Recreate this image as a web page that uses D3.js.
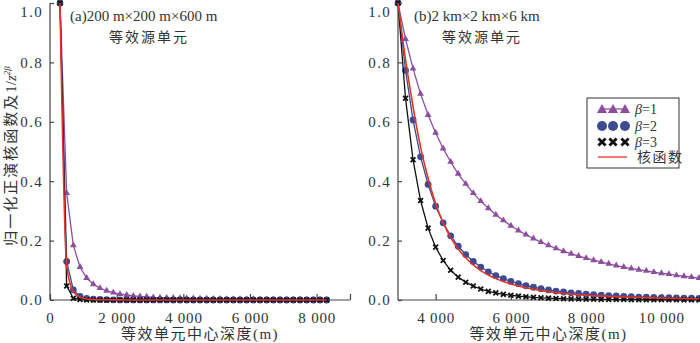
<!DOCTYPE html>
<html>
<head>
<meta charset="utf-8">
<script src="https://cdn.jsdelivr.net/npm/d3@7"></script>
<style>
  body { margin: 0; background: #fff; }
  svg text { font-family: "Liberation Serif", "Noto Sans CJK SC", serif; fill: #333; }
</style>
</head>
<body>
<div id="chart"></div>
<script>
// depths (m) of equivalent unit centres
let depthA = [300, 500, 700, 900, 1100, 1300, 1500, 1700, 1900, 2100, 2300, 2500, 2700, 2900, 3100, 3300, 3500, 3700, 3900, 4100,
    4300, 4500, 4700, 4900, 5100, 5300, 5500, 5700, 5900, 6100, 6300, 6500, 6700, 6900, 7100, 7300, 7500, 7700, 7900, 8100, 8300];
let depthB = [3000, 3200, 3400, 3600, 3800, 4000, 4200, 4400, 4600, 4800, 5000, 5200, 5400, 5600, 5800, 6000, 6200, 6400, 6600, 6800,
    7000, 7200, 7400, 7600, 7800, 8000, 8200, 8400, 8600, 8800, 9000, 9200, 9400, 9600, 9800, 10000, 10200, 10400, 10600, 10800, 11000];

// (a) 200 m x 200 m x 600 m
let beta1A = [1, 0.36, 0.184, 0.111, 0.074, 0.053, 0.04, 0.031, 0.025, 0.02, 0.017, 0.014, 0.012, 0.011, 0.009, 0.008, 0.007, 0.0066, 0.0059, 0.0054,
    0.0049, 0.0044, 0.0041, 0.0037, 0.0035, 0.0032, 0.003, 0.0028, 0.0026, 0.0024, 0.0023, 0.0021, 0.002, 0.0019, 0.0018, 0.0017, 0.0016, 0.0015, 0.0014, 0.0014, 0.0013];
let beta2A = [1, 0.13, 0.034, 0.012, 0.0055, 0.0028, 0.0016, 0.001, 0.0006, 0.0004, 0.0003, 0.0002, 0.0002, 0.0001, 0.0001, 0.0001, 0.0001, 0, 0, 0,
    0, 0, 0, 0, 0, 0, 0, 0, 0, 0, 0, 0, 0, 0, 0, 0, 0, 0, 0, 0, 0];
let beta3A = [1, 0.047, 0.006, 0.0014, 0.0004, 0.0002, 0.0001, 0, 0, 0, 0, 0, 0, 0, 0, 0, 0, 0, 0, 0,
    0, 0, 0, 0, 0, 0, 0, 0, 0, 0, 0, 0, 0, 0, 0, 0, 0, 0, 0, 0, 0];
let kernelA = [1, 0.115, 0.028, 0.009, 0.0035, 0.0017, 0.001, 0.0006, 0.0004, 0.0003, 0.0002, 0.0002, 0.0001, 0.0001, 0.0001, 0.0001, 0.0001, 0.0001, 0, 0,
    0, 0, 0, 0, 0, 0, 0, 0, 0, 0, 0, 0, 0, 0, 0, 0, 0, 0, 0, 0, 0];

// (b) 2 km x 2 km x 6 km
let beta1B = [1, 0.879, 0.779, 0.694, 0.623, 0.563, 0.51, 0.465, 0.425, 0.391, 0.36, 0.333, 0.309, 0.287, 0.268, 0.25, 0.234, 0.22, 0.207, 0.195,
    0.184, 0.174, 0.164, 0.156, 0.148, 0.141, 0.134, 0.128, 0.122, 0.116, 0.111, 0.106, 0.102, 0.098, 0.094, 0.09, 0.087, 0.083, 0.08, 0.077, 0.074];
let beta2B = [1, 0.773, 0.606, 0.482, 0.389, 0.316, 0.26, 0.216, 0.181, 0.153, 0.13, 0.111, 0.095, 0.082, 0.072, 0.0625, 0.055, 0.048, 0.043, 0.038,
    0.034, 0.03, 0.027, 0.024, 0.022, 0.02, 0.018, 0.016, 0.015, 0.0135, 0.012, 0.011, 0.01, 0.0095, 0.009, 0.008, 0.0075, 0.007, 0.0064, 0.006, 0.0055];
let beta3B = [1, 0.679, 0.472, 0.335, 0.242, 0.178, 0.133, 0.1, 0.077, 0.06, 0.047, 0.037, 0.029, 0.024, 0.019, 0.016, 0.013, 0.011, 0.009, 0.0074,
    0.0062, 0.0052, 0.0044, 0.0038, 0.0032, 0.0028, 0.0024, 0.0021, 0.0018, 0.0016, 0.0014, 0.0012, 0.0011, 0.0009, 0.0008, 0.0007, 0.0006, 0.0006, 0.0005, 0.0005, 0.0004];
let kernelB = [1, 0.81, 0.65, 0.515, 0.41, 0.325, 0.26, 0.21, 0.172, 0.142, 0.118, 0.099, 0.084, 0.072, 0.062, 0.054, 0.047, 0.041, 0.036, 0.032,
    0.028, 0.025, 0.022, 0.02, 0.018, 0.016, 0.0145, 0.013, 0.012, 0.011, 0.01, 0.009, 0.0083, 0.0076, 0.007, 0.0064, 0.0059, 0.0054, 0.005, 0.0046, 0.0042];

let yTicks = [0, 0.2, 0.4, 0.6, 0.8, 1.0];
let xTicksA = [0, 2000, 4000, 6000, 8000, 9000];
let xTicksB = [4000, 6000, 8000, 10000];
let legendLabels = ['=1', '=2', '=3', '核函数'];

let colPurple = '#8b4f9d', colBlue = '#3f4b91', colBlack = '#111', colRed = '#e5352b';
let serif = '"Liberation Serif", "Noto Sans CJK SC", serif';

let svg = d3.select('#chart').append('svg').attr('width', 700).attr('height', 343);

let locale = d3.formatLocale({ decimal: '.', thousands: ' ', grouping: [3], currency: ['', ''] });
let fmtX = locale.format(',d');
let fmtY = d3.format('.1f');

function xMark(g, x, y, h, w) {
    g.append('path')
        .attr('d', 'M' + (x - h) + ',' + (y - h) + 'L' + (x + h) + ',' + (y + h) + 'M' + (x - h) + ',' + (y + h) + 'L' + (x + h) + ',' + (y - h))
        .attr('stroke', colBlack).attr('stroke-width', w).attr('fill', 'none');
}

function drawPanel(opt) {
    var x = d3.scaleLinear().domain(opt.xDomain).range(opt.xRange);
    var y = d3.scaleLinear().domain([0, 1]).range([300, 3]);
    var g = svg.append('g');

    // axes, ticks inward
    g.append('g').attr('transform', 'translate(0,300)')
        .call(d3.axisBottom(x).tickValues(opt.xTicks).tickSize(-6).tickPadding(12)
            .tickFormat(d => opt.hide && opt.hide.indexOf(d) >= 0 ? '' : fmtX(d)))
        .attr('font-family', serif).attr('font-size', 15)
        .call(a => a.select('.domain').attr('d', 'M' + opt.xRange[0] + ',0H' + opt.xRange[1]))
        .call(a => a.selectAll('line,path').attr('stroke', '#444').attr('stroke-width', 1.2))
        .call(a => a.selectAll('text').attr('fill', '#333').style('letter-spacing', '0.8px'));

    g.append('g').attr('transform', 'translate(' + opt.xRange[0] + ',0)')
        .call(d3.axisLeft(y).tickValues(yTicks).tickSize(-4).tickPadding(7).tickFormat(fmtY))
        .attr('font-family', serif).attr('font-size', 15)
        .call(a => a.select('.domain').attr('d', 'M0,3V300'))
        .call(a => a.selectAll('line,path').attr('stroke', '#444').attr('stroke-width', 1.2))
        .call(a => a.selectAll('text').attr('fill', '#333').style('letter-spacing', '1.3px'))
        .call(a => a.selectAll('.tick').filter(d => d === 1).select('text').attr('dy', '0.9em'));

    var line = d3.line().x(d => x(d[0])).y(d => y(d[1]));
    var zip = (xs, ys) => xs.map((v, i) => [v, ys[i]]);

    var s1 = zip(opt.depth, opt.b1), s2 = zip(opt.depth, opt.b2), s3 = zip(opt.depth, opt.b3), sk = zip(opt.depth, opt.k);

    g.append('path').datum(s1).attr('d', line).attr('fill', 'none').attr('stroke', colPurple).attr('stroke-width', 1.3);
    g.selectAll('.tri').data(s1).enter().append('path')
        .attr('d', d3.symbol().type(d3.symbolTriangle).size(20))
        .attr('transform', d => 'translate(' + x(d[0]) + ',' + y(d[1]) + ')')
        .attr('fill', colPurple);

    g.append('path').datum(s2).attr('d', line).attr('fill', 'none').attr('stroke', colBlue).attr('stroke-width', 1.3);
    g.selectAll('.dot').data(s2).enter().append('circle')
        .attr('cx', d => x(d[0])).attr('cy', d => y(d[1])).attr('r', 3.4).attr('fill', colBlue);

    g.append('path').datum(s3).attr('d', line).attr('fill', 'none').attr('stroke', colBlack).attr('stroke-width', 1.3);
    s3.forEach(d => xMark(g, x(d[0]), y(d[1]), 2.4, 1.8));

    g.append('path').datum(sk).attr('d', line.curve(d3.curveMonotoneX)).attr('fill', 'none')
        .attr('stroke', colRed).attr('stroke-width', 1.6);

    // titles
    g.append('text').attr('x', opt.titleX).attr('y', 21).attr('font-size', 15).text(opt.title);
    g.append('text').attr('x', opt.subX).attr('y', 42).attr('font-size', 14).attr('text-anchor', 'middle')
        .style('letter-spacing', '2px').style('font-family', '"Noto Sans CJK SC"').attr('fill', '#444').text('等效源单元');
    g.append('text').attr('x', (opt.xRange[0] + opt.xRange[1]) / 2).attr('y', 339).attr('font-size', 15)
        .attr('text-anchor', 'middle').style('letter-spacing', '1.5px').attr('fill', '#444').text('等效单元中心深度(m)');
}

drawPanel({
    xDomain: [0, 9000], xRange: [50, 350], xTicks: xTicksA, hide: [9000],
    depth: depthA, b1: beta1A, b2: beta2A, b3: beta3A, k: kernelA,
    title: '(a)200 m×200 m×600 m', titleX: 70, subX: 149
});
drawPanel({
    xDomain: [3000, 11000], xRange: [398, 699], xTicks: xTicksB,
    depth: depthB, b1: beta1B, b2: beta2B, b3: beta3B, k: kernelB,
    title: '(b)2 km×2 km×6 km', titleX: 414, subX: 482
});

// y axis title
var yt = svg.append('text').attr('transform', 'translate(16,156) rotate(-90)')
    .attr('text-anchor', 'middle').attr('font-size', 15).attr('fill', '#444');
yt.append('tspan').style('letter-spacing', '2px').text('归一化正演核函数及');
yt.append('tspan').text('1/');
yt.append('tspan').style('font-style', 'italic').text('z');
yt.append('tspan').attr('dy', -6).attr('font-size', 9).style('font-style', 'italic').text('2β');

// legend
var lg = svg.append('g').attr('transform', 'translate(587,98)');
lg.append('rect').attr('width', 92).attr('height', 70).attr('fill', '#fff').attr('stroke', '#333').attr('stroke-width', 1);
var rows = [11, 28, 44, 59];
var mx = [15, 26, 38];
lg.append('line').attr('x1', 15).attr('x2', 38).attr('y1', rows[0]).attr('y2', rows[0]).attr('stroke', colPurple).attr('stroke-width', 1.3);
mx.forEach(m => lg.append('path').attr('d', d3.symbol().type(d3.symbolTriangle).size(45)())
    .attr('transform', 'translate(' + m + ',' + (rows[0] + 1) + ')').attr('fill', colPurple));
mx.forEach(m => lg.append('circle').attr('cx', m).attr('cy', rows[1]).attr('r', 5).attr('fill', colBlue));
mx.forEach(m => xMark(lg, m, rows[2], 3.6, 2.8));
lg.append('line').attr('x1', 11).attr('x2', 40).attr('y1', rows[3]).attr('y2', rows[3]).attr('stroke', colRed).attr('stroke-width', 1.3);
legendLabels.forEach((t, i) => {
    var tx = lg.append('text').attr('x', i < 3 ? 48 : 50).attr('y', rows[i] + 5).attr('font-size', 14).attr('fill', '#333');
    if (i < 3) {
        tx.append('tspan').style('font-style', 'italic').text('β');
        tx.append('tspan').text(t);
    } else {
        tx.style('letter-spacing', '1.5px').text(t);
    }
});
</script>
</body>
</html>
